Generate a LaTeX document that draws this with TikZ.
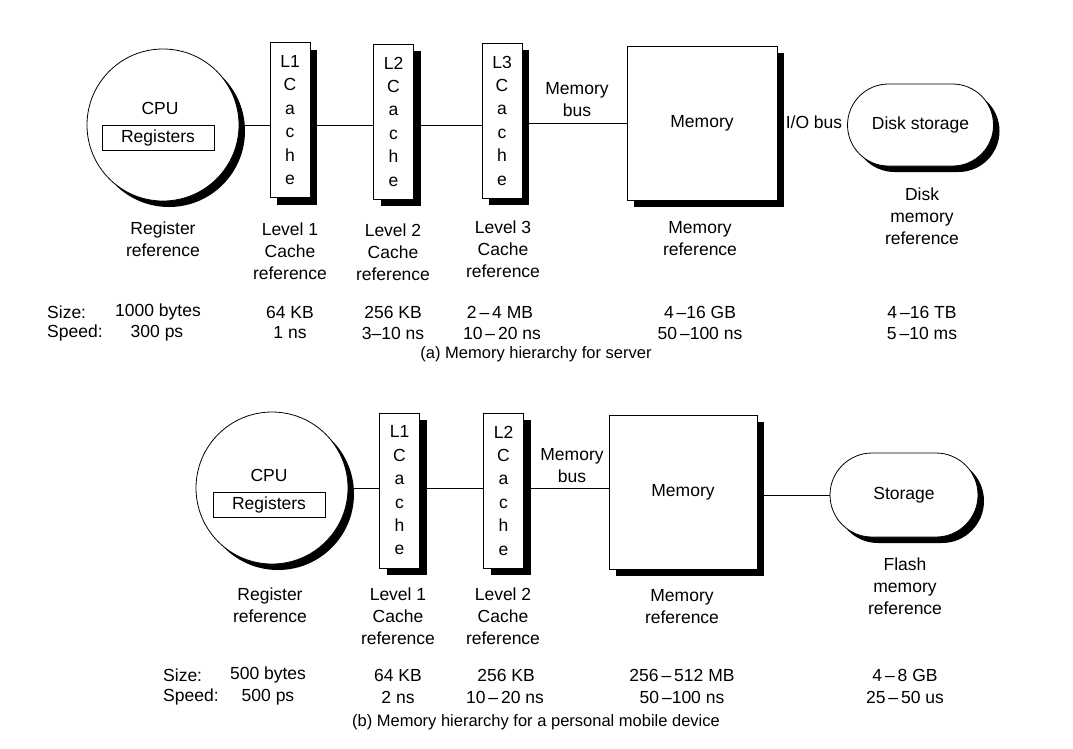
\documentclass[tikz,border=0pt]{standalone}
\usepackage{fontspec}
\setmainfont{Liberation Sans}
\usetikzlibrary{shapes.misc,shadows}
\begin{document}
\begin{tikzpicture}[x=1pt,y=-1pt,
  every node/.style={font=\fontsize{17.5}{22}\selectfont, inner sep=0pt},
  sh/.style={drop shadow={shadow xshift=7pt,shadow yshift=-7pt,fill=black,opacity=1}},
  cpubox/.style={circle, draw, thick, fill=white, minimum size=152pt,
     drop shadow={shadow xshift=6pt,shadow yshift=-6pt,fill=black,opacity=1}},
  regbox/.style={draw, fill=white, minimum width=112pt, minimum height=25pt},
  cachebox/.style={draw, fill=white, sh, minimum width=40pt, minimum height=155pt,
     align=center, font=\fontsize{17.5}{23.4}\selectfont},
  membox/.style={draw, fill=white, sh, minimum width=150pt, minimum height=154pt},
  diskbox/.style={rounded rectangle, draw, thick, fill=white,
     drop shadow={shadow xshift=6pt,shadow yshift=-6pt,fill=black,opacity=1},
     minimum width=146pt, minimum height=82pt},
  lbl/.style={align=center},
  lft/.style={anchor=west},
  captext/.style={font=\fontsize{16.5}{20}\selectfont},
  conn/.style={line width=0.9pt}
]
\useasboundingbox (0,0) rectangle (1073,748);

% ---------- (a) server ----------
\node[cpubox] (cpu1) at (163,125) {};
\node (cpu1t) at (160,108) {CPU};
\node[regbox] (reg1) at (158,138) {Registers};
\node[cachebox] (l1a) at (290,120) {L1\\C\\a\\c\\h\\e};
\node[cachebox] (l2a) at (393.5,121.5) {L2\\C\\a\\c\\h\\e};
\node[cachebox] (l3a) at (502,120.5) {L3\\C\\a\\c\\h\\e};
\node[membox] (mema) at (702,123) {Memory};
\node[diskbox] (diska) at (920.5,125) {Disk storage};
\node[lbl] (busa) at (577,100) {Memory\\bus};
\node (ioa) at (814,122) {I/O bus};

\draw[conn] (cpu1.east) -- (cpu1.east -| l1a.west);
\draw[conn] (l1a.east |- cpu1.east) -- (l2a.west |- cpu1.east);
\draw[conn] (l2a.east |- cpu1.east) -- (l3a.west |- cpu1.east);
\draw[conn] (l3a.east |- mema.west) -- (mema.west);

\node[lbl] (rra) at (163,239) {Register\\reference};
\node[lbl] (c1a) at (290,251) {Level 1\\Cache\\reference};
\node[lbl] (c2a) at (393,252) {Level 2\\Cache\\reference};
\node[lbl] (c3a) at (503,249) {Level 3\\Cache\\reference};
\node[lbl] (mra) at (700,239) {Memory\\reference};
\node[lbl] (dra) at (922,216) {Disk\\memory\\reference};

\node[lft] (sza) at (47,312) {Size:};
\node[lft] (spa) at (47,333) {Speed:};
\node (s1a) at (158,312) {1000 bytes};
\node (p1a) at (157,333) {300 ps};
\node (s2a) at (290,312) {64 KB};
\node (p2a) at (290,333) {1 ns};
\node (s3a) at (393,312) {256 KB};
\node (p3a) at (393,333) {3–10 ns};
\node (s4a) at (500,312) {2\,–\,4 MB};
\node (p4a) at (502,333) {10\,–\,20 ns};
\node (s5a) at (700,312) {4\,–16 GB};
\node (p5a) at (700,333) {50\,–100 ns};
\node (s6a) at (922,312) {4\,–16 TB};
\node (p6a) at (922,333) {5\,–10 ms};
\node[captext] (capa) at (536,354) {(a) Memory hierarchy for server};

% ---------- (b) personal mobile device ----------
\node[cpubox] (cpu2) at (272,488) {};
\node (cpu2t) at (269,475) {CPU};
\node[regbox] (reg2) at (269,505) {Registers};
\node[cachebox] (l1b) at (399.5,490.5) {L1\\C\\a\\c\\h\\e};
\node[cachebox] (l2b) at (503.5,490.5) {L2\\C\\a\\c\\h\\e};
\node[membox, minimum width=148pt] (memb) at (683,492) {Memory};
\node[diskbox, minimum width=148pt, minimum height=84pt] (storb) at (904,495) {Storage};
\node[lbl] (busb) at (572,466) {Memory\\bus};

\draw[conn] (cpu2.east) -- (cpu2.east -| l1b.west);
\draw[conn] (l1b.east |- cpu2.east) -- (l2b.west |- cpu2.east);
\draw[conn] (l2b.east |- cpu2.east) -- (memb.west |- cpu2.east);
\draw[conn] ([xshift=7pt]memb.east |- storb.west) -- (storb.west);

\node[lbl] (rrb) at (270,605) {Register\\reference};
\node[lbl] (c1b) at (398,616) {Level 1\\Cache\\reference};
\node[lbl] (c2b) at (503,616) {Level 2\\Cache\\reference};
\node[lbl] (mrb) at (682,607) {Memory\\reference};
\node[lbl] (frb) at (905,586) {Flash\\memory\\reference};

\node[lft] (szb) at (163,675) {Size:};
\node[lft] (spb) at (163,697) {Speed:};
\node (s1b) at (268,675) {500 bytes};
\node (p1b) at (268,697) {500 ps};
\node (s2b) at (398,675) {64 KB};
\node (p2b) at (398,697) {2 ns};
\node (s3b) at (506,675) {256 KB};
\node (p3b) at (505,697) {10\,–\,20 ns};
\node (s4b) at (682,675) {256\,–\,512 MB};
\node (p4b) at (682,697) {50\,–100 ns};
\node (s5b) at (905,675) {4\,–\,8 GB};
\node (p5b) at (905,697) {25\,–\,50 us};
\node[captext] (capb) at (536,722) {(b) Memory hierarchy for a personal mobile device};
\end{tikzpicture}
\end{document}
